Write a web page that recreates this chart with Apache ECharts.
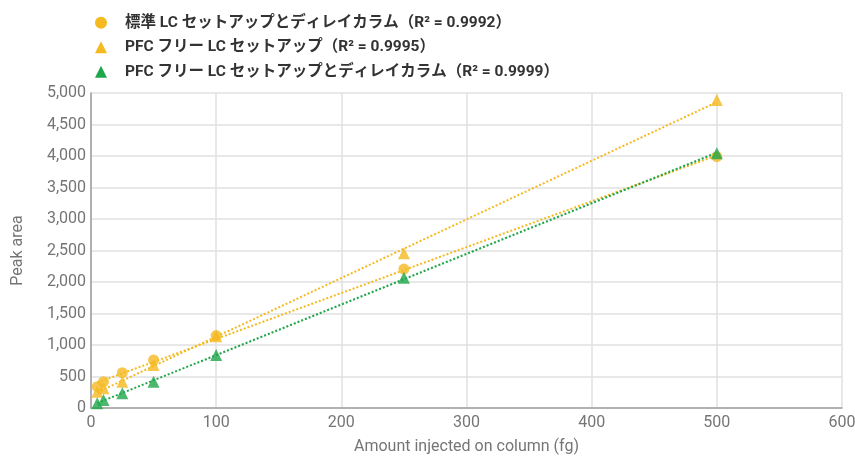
<!DOCTYPE html>
<html><head><meta charset="utf-8">
<script src="https://cdn.jsdelivr.net/npm/echarts@6/dist/echarts.min.js"></script>
<style>html,body{margin:0;padding:0;background:#fff}#c{width:855px;height:457px}</style>
</head><body><div id="c"></div>
<script>
const amounts = [5, 10, 25, 50, 100, 250, 500];
const seriesNames = [
  '標準 LC セットアップとディレイカラム（R² = 0.9992）',
  'PFC フリー LC セットアップ（R² = 0.9995）',
  'PFC フリー LC セットアップとディレイカラム（R² = 0.9999）'
];
const standardDelay = [338, 417, 560, 762, 1150, 2206, 3989];
const pfcFree = [259, 312, 418, 683, 1140, 2455, 4889];
const pfcFreeDelay = [75, 127, 233, 418, 841, 2069, 4042];
const xTicks = [0, 100, 200, 300, 400, 500, 600];
const yTicks = [0, 500, 1000, 1500, 2000, 2500, 3000, 3500, 4000, 4500, 5000];

const colors = ['#F5B921', '#F5B921', '#1FA64A'];
const symbols = ['circle', 'triangle', 'triangle'];
const allY = [standardDelay, pfcFree, pfcFreeDelay];

function fit(xs, ys) {
  const n = xs.length;
  const mx = xs.reduce((a, b) => a + b, 0) / n;
  const my = ys.reduce((a, b) => a + b, 0) / n;
  let sxy = 0, sxx = 0;
  for (let i = 0; i < n; i++) { sxy += (xs[i] - mx) * (ys[i] - my); sxx += (xs[i] - mx) ** 2; }
  const b = sxy / sxx, a = my - b * mx;
  const x0 = Math.min(...xs), x1 = Math.max(...xs);
  return [[x0, a + b * x0], [x1, a + b * x1]];
}

const series = [];
allY.forEach((ys, i) => {
  series.push({
    name: seriesNames[i], type: 'line', data: fit(amounts, ys), showSymbol: false, symbol: 'none',
    lineStyle: { color: colors[i], width: 2, type: [2, 2] }, silent: true, z: 1
  });
});
allY.forEach((ys, i) => {
  series.push({
    name: seriesNames[i], type: 'scatter', data: amounts.map((x, j) => [x, ys[j]]),
    symbol: symbols[i], symbolSize: i === 0 ? 11 : 12,
    itemStyle: { color: colors[i] }, z: 3
  });
});

const chart = echarts.init(document.getElementById('c'));
chart.setOption({
  animation: false,
  color: colors,
  legend: {
    left: 90, top: 10, orient: 'vertical', itemGap: 9, itemWidth: 12, itemHeight: 12,
    data: seriesNames.map((n, i) => ({ name: n, icon: symbols[i], itemStyle: { color: colors[i] } })),
    textStyle: { fontSize: 15.5, fontWeight: 'bold', color: '#333', fontFamily: 'Roboto, "Noto Sans CJK JP", sans-serif', padding: [0, 0, 0, 13] }
  },
  grid: { left: 91, right: 13, top: 93, bottom: 49, outerBoundsMode: 'none', containLabel: false },
  xAxis: {
    type: 'value', min: xTicks[0], max: xTicks[xTicks.length - 1], interval: 100,
    name: 'Amount injected on column (fg)', nameLocation: 'middle', nameGap: 31,
    nameTextStyle: { fontSize: 16, color: '#757575', fontFamily: 'Roboto' },
    axisLine: { show: true, lineStyle: { color: '#9e9e9e', width: 1.5 } },
    axisTick: { show: false },
    axisLabel: { fontSize: 16, color: '#757575', fontFamily: 'Roboto', margin: 7 },
    splitLine: { show: true, lineStyle: { color: '#e0e0e0', width: 1.5 } }
  },
  yAxis: {
    type: 'value', min: yTicks[0], max: yTicks[yTicks.length - 1], interval: 500,
    name: 'Peak area', nameLocation: 'middle', nameGap: 65, nameRotate: 90,
    nameTextStyle: { fontSize: 16, color: '#757575', fontFamily: 'Roboto' },
    axisLine: { show: true, lineStyle: { color: '#9e9e9e', width: 1.5 } },
    axisTick: { show: false },
    axisLabel: { fontSize: 16, color: '#757575', fontFamily: 'Roboto', margin: 5,
      formatter: v => v.toLocaleString('en-US') },
    splitLine: { show: true, lineStyle: { color: '#e0e0e0', width: 1.5 } }
  },
  series: series
});
</script></body></html>
